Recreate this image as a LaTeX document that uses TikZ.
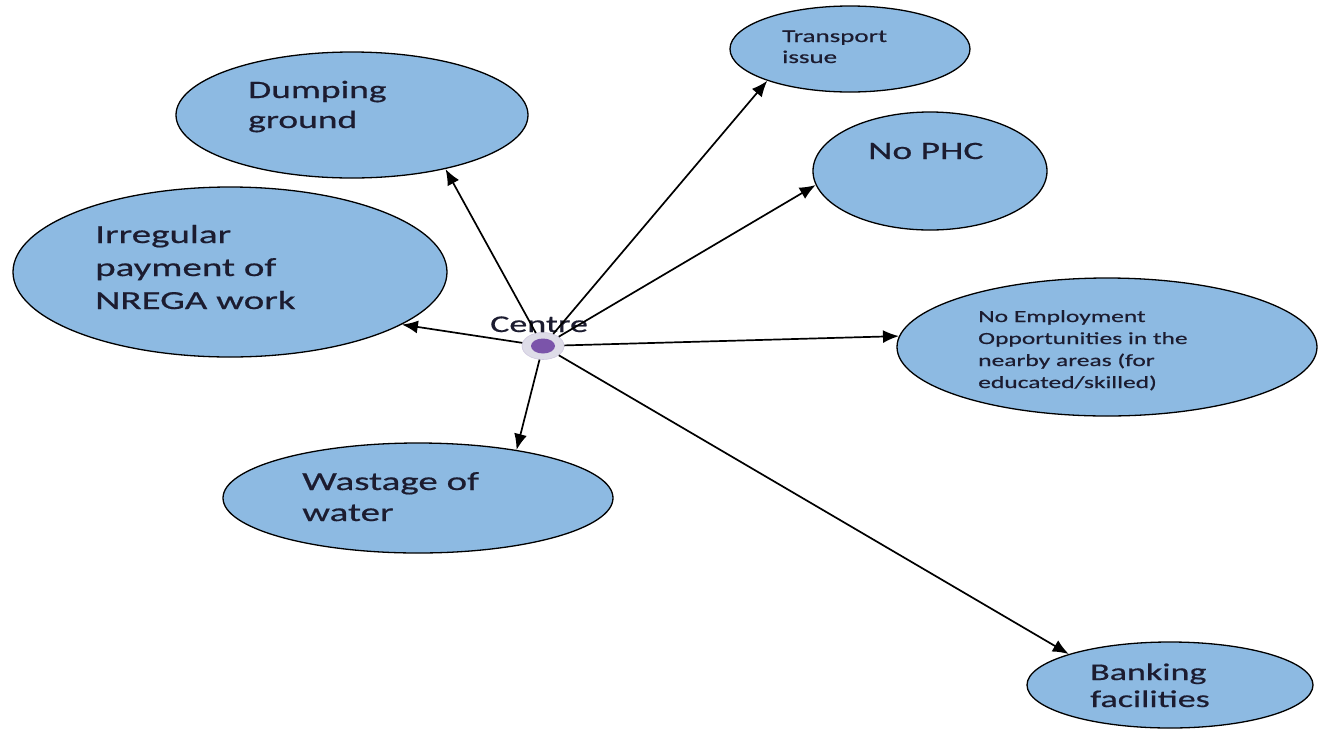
\documentclass[tikz,border=0pt]{standalone}
\usepackage{fontspec}
\setmainfont[FakeStretch=1.5,FakeBold=0.6]{Carlito}
\usetikzlibrary{shapes.geometric,arrows.meta}
\definecolor{bubble}{RGB}{141,186,226}
\definecolor{txt}{RGB}{28,28,48}
\definecolor{dotc}{RGB}{123,84,170}
\definecolor{ringc}{RGB}{222,220,232}
\tikzset{
  bub/.style={ellipse,draw=black,line width=1.3pt,fill=bubble,inner sep=0pt},
  lab/.style={anchor=base west,align=left,inner sep=0pt,text=txt},
  arr/.style={-{Latex[length=16pt,width=13pt]},line width=1.7pt,black},
}
\begin{document}
\begin{tikzpicture}[x=1pt,y=-1pt]
\useasboundingbox (0,0) rectangle (1318,729);
% bubbles
\node[bub,minimum width=352pt,minimum height=126pt] (dump) at (352,115) {};
\node[bub,minimum width=240pt,minimum height=86pt] (trans) at (850,49) {};
\node[bub,minimum width=234pt,minimum height=118pt] (phc) at (930,171) {};
\node[bub,minimum width=434pt,minimum height=170pt] (irr) at (230,272) {};
\node[bub,minimum width=420pt,minimum height=138pt] (emp) at (1107,347) {};
\node[bub,minimum width=390pt,minimum height=110pt] (wast) at (418,498) {};
\node[bub,minimum width=286pt,minimum height=86pt] (bank) at (1170,685) {};
% labels (anchor = baseline of last line)
\node[lab,font=\fontsize{25}{30}\selectfont] (tdump) at (248,128) {Dumping\\ground};
\node[lab,font=\fontsize{18}{21}\selectfont] (ttrans) at (782,63) {Transport\\issue};
\node[lab,font=\fontsize{25}{30}\selectfont] (tphc) at (868,159) {No PHC};
\node[lab,font=\fontsize{26}{33}\selectfont] (tirr) at (95,309) {Irregular\\payment of\\NREGA work};
\node[lab,font=\fontsize{17}{22}\selectfont] (temp) at (978,388) {No Employment\\Opportunities in the\\nearby areas (for\\educated/skilled)};
\node[lab,font=\fontsize{26}{31}\selectfont] (twast) at (302,521) {Wastage of\\water};
\node[lab,font=\fontsize{24}{27}\selectfont] (tbank) at (1090,707) {Banking\\facilities};
% centre
\node[ellipse,fill=ringc,draw=ringc!85!dotc,line width=0.6pt,minimum width=42pt,minimum height=27pt,inner sep=0pt] (c) at (543,346) {};
\node[ellipse,fill=dotc,minimum width=24pt,minimum height=15pt,inner sep=0pt] (cdot) at (543,346) {};
\node[lab,font=\fontsize{24}{28}\selectfont] (tc) at (490,332) {Centre};
% arrows
\draw[arr] (c) -- (dump.-30);
\draw[arr] (c) -- (irr.-17);
\draw[arr] (c) -- (trans.201);
\draw[arr] (c) -- (phc.-173);
\draw[arr] (c) -- (emp.177.6);
\draw[arr] (c) -- (bank.163.6);
\draw[arr] (c) -- (wast.26.6);
\end{tikzpicture}
\end{document}
